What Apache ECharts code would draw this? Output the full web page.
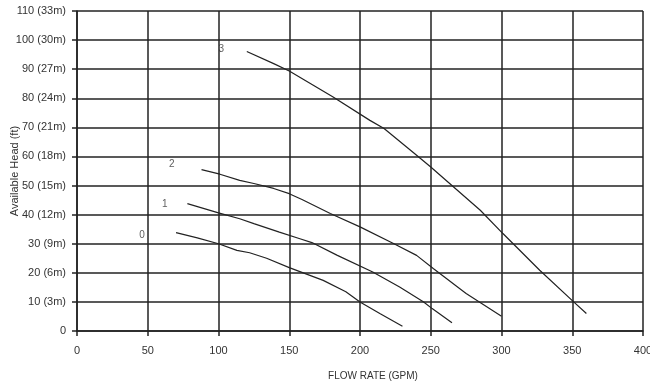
<!DOCTYPE html>
<html>
<head>
<meta charset="utf-8">
<script src="https://cdn.jsdelivr.net/npm/echarts@6/dist/echarts.min.js"></script>
<style>
  html, body { margin: 0; padding: 0; background: #fff; }
  #main { width: 650px; height: 387px; }
</style>
</head>
<body>
<div id="main"></div>
<script>
// pump curves, flow (GPM) vs available head (ft)
var curve0 = [[70, 33.8], [85, 32], [100, 30], [113, 27.7], [122, 26.9], [134, 25], [150, 21.8], [174, 17.4], [190, 13.5], [200, 10], [214, 6], [230, 1.6]];
var curve1 = [[78, 43.8], [100, 40.6], [115, 38.6], [125, 36.9], [143, 34], [157, 31.8], [166, 30.4], [184, 26], [209, 20.3], [228, 15.1], [245, 10], [251, 7.7], [265, 2.8]];
var curve2 = [[88, 55.5], [101, 53.9], [115, 51.8], [125, 50.7], [139, 49], [150, 47.2], [159, 45.2], [179, 40.4], [200, 35.8], [224, 30], [240, 26], [252, 21.4], [275, 12.9], [300, 5.1]];
var curve3 = [[120, 96.1], [139, 91.9], [150, 89.4], [181, 80.4], [207, 72.4], [217, 69.6], [240, 60.4], [250, 56.4], [285, 41.5], [301, 33.5], [327, 20.9], [351, 10], [360, 6]];
var curveLabels = [[46, 33, '0'], [62, 43.5, '1'], [67, 57.3, '2'], [102, 97, '3']];
var yTickLabels = ['0', '10 (3m)', '20 (6m)', '30 (9m)', '40 (12m)', '50 (15m)', '60 (18m)', '70 (21m)', '80 (24m)', '90 (27m)', '100 (30m)', '110 (33m)'];

var chartDom = document.getElementById('main');
var myChart = echarts.init(chartDom);

var lineStyle = { color: '#222', width: 1.2 };
function curve(data) {
    return {
        type: 'line',
        data: data,
        symbol: 'none',
        smooth: false,
        lineStyle: lineStyle
    };
}

var option = {
    animation: false,
    grid: { left: 77, right: 7, top: 11, bottom: 56, containLabel: false, outerBoundsMode: 'none' },
    xAxis: {
        type: 'value',
        min: 0,
        max: 400,
        interval: 50,
        name: 'FLOW RATE (GPM)',
        nameLocation: 'middle',
        nameGap: 40,
        nameMoveOverlap: false,
        nameTextStyle: { fontFamily: 'Liberation Sans', fontSize: 10, color: '#333', padding: [0, 0, 0, 26] },
        axisLine: { show: true, lineStyle: { color: '#222', width: 1.5 } },
        axisTick: { show: true, length: 5, lineStyle: { color: '#222', width: 1.5 } },
        axisLabel: { fontFamily: 'Liberation Sans', fontSize: 11, color: '#333', margin: 14 },
        splitLine: { show: true, lineStyle: { color: '#222', width: 1.5 } }
    },
    yAxis: {
        type: 'value',
        min: 0,
        max: 110,
        interval: 10,
        name: 'Available Head (ft)',
        nameLocation: 'middle',
        nameGap: 57,
        nameMoveOverlap: false,
        nameTextStyle: { fontFamily: 'Liberation Sans', fontSize: 11, color: '#333' },
        axisLine: { show: true, lineStyle: { color: '#222', width: 1.5 } },
        axisTick: { show: true, length: 5, lineStyle: { color: '#222', width: 1.5 } },
        axisLabel: {
            fontFamily: 'Liberation Sans', fontSize: 11, color: '#333', margin: 11,
            formatter: function (v) { return yTickLabels[Math.round(v / 10)]; }
        },
        splitLine: { show: true, lineStyle: { color: '#222', width: 1.5 } }
    },
    series: [
        curve(curve0),
        curve(curve1),
        curve(curve2),
        curve(curve3),
        {
            type: 'scatter',
            data: curveLabels,
            symbolSize: 0,
            label: {
                show: true,
                position: 'inside',
                formatter: function (p) { return p.value[2]; },
                fontFamily: 'Liberation Sans',
                fontSize: 10,
                color: '#333'
            }
        }
    ]
};

option && myChart.setOption(option);
</script>
</body>
</html>
